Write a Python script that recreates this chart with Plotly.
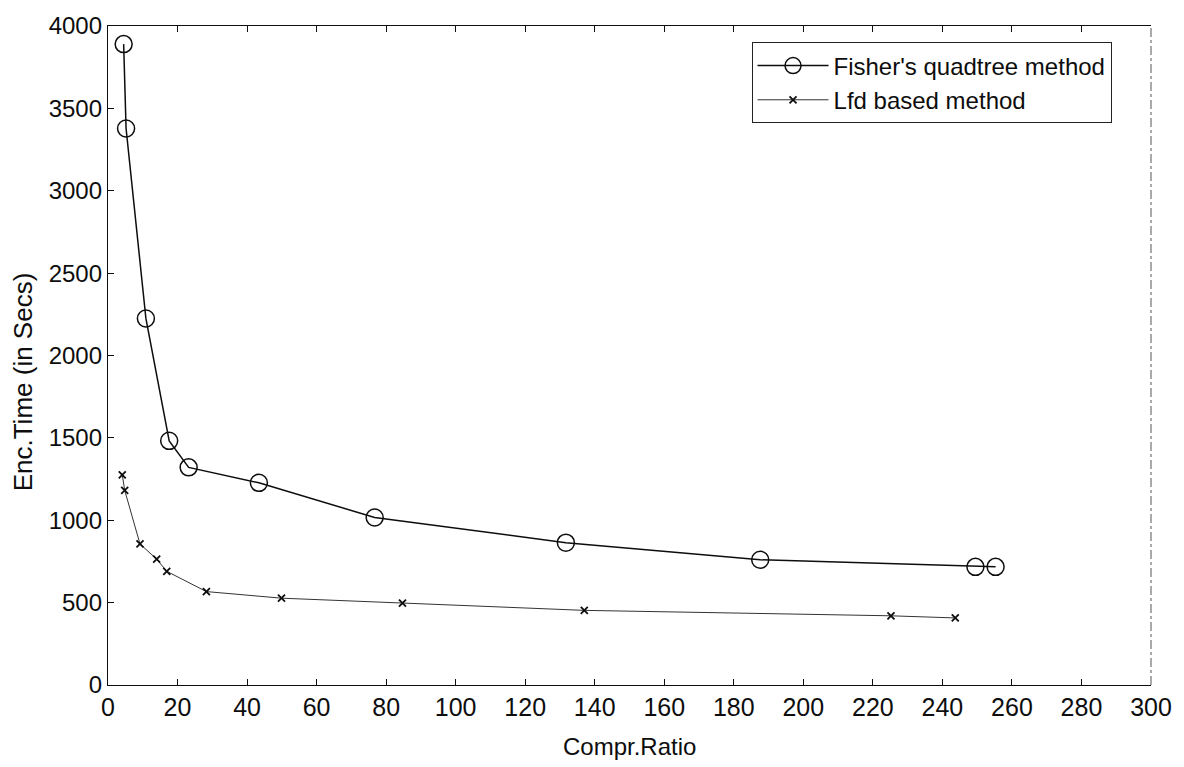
import plotly.graph_objects as go

# Encoding time vs compression ratio for the two fractal coding schemes
fisher_ratio = [4.5, 5.2, 10.9, 17.6, 23.2, 43.4, 76.7, 131.7, 187.6, 249.5, 255.3]
fisher_time = [3890, 3378, 2225, 1482, 1321, 1227, 1017, 864, 760, 717, 717]

lfd_ratio = [4.1, 4.8, 9.2, 14.0, 16.9, 28.3, 49.9, 84.7, 137.0, 225.2, 243.7]
lfd_time = [1276, 1182, 856, 764, 690, 567, 527, 497, 453, 420, 407]

x_ticks = list(range(0, 301, 20))
y_ticks = list(range(0, 4001, 500))

INK = "#0d0d0d"

fig = go.Figure()
fig.add_trace(go.Scatter(
    x=fisher_ratio, y=fisher_time, mode="lines+markers",
    name="Fisher's quadtree method",
    line=dict(color=INK, width=1.5),
    marker=dict(symbol="circle-open", size=17, color=INK,
                line=dict(width=1.5, color=INK)),
))
fig.add_trace(go.Scatter(
    x=lfd_ratio, y=lfd_time, mode="lines+markers",
    name="Lfd based method",
    line=dict(color="#333333", width=1),
    marker=dict(symbol="x-thin", size=7, color=INK,
                line=dict(width=1.8, color=INK)),
))

axis_common = dict(
    showgrid=False, zeroline=False, showline=True, linecolor=INK,
    linewidth=1.3, ticks="inside", ticklen=6,
    tickcolor=INK, tickwidth=1,
)

fig.update_layout(
    width=1184, height=767,
    margin=dict(l=108, r=26, t=23, b=82),
    paper_bgcolor="white", plot_bgcolor="white",
    font=dict(family="Liberation Sans, Arial, sans-serif", color=INK),
    showlegend=True,
    legend=dict(
        x=0.617, y=0.975, xanchor="left", yanchor="top",
        bgcolor="white", bordercolor="#222222", borderwidth=1,
        font=dict(size=24, color=INK),
        itemwidth=71, tracegroupgap=0,
    ),
    xaxis=dict(
        range=[0, 300], tickvals=x_ticks, ticktext=[str(v) for v in x_ticks],
        tickfont=dict(size=25), mirror="ticks",
        **axis_common,
    ),
    yaxis=dict(
        range=[0, 4000], tickvals=y_ticks, ticktext=[str(v) for v in y_ticks],
        tickfont=dict(size=24), mirror=False,
        **axis_common,
    ),
    annotations=[
        dict(text="Compr.Ratio", xref="paper", yref="paper", x=0.5, y=-0.093,
             xanchor="center", yanchor="middle", showarrow=False,
             font=dict(size=24, color=INK)),
        dict(text="Enc.Time (in Secs)", xref="paper", yref="paper", x=-0.082, y=0.46,
             xanchor="center", yanchor="middle", showarrow=False, textangle=-90,
             font=dict(size=26, color=INK)),
    ],
    shapes=[
        # faint right-hand frame edge
        dict(type="line", xref="paper", yref="paper", x0=1, x1=1, y0=0, y1=1,
             line=dict(color="#555555", width=1, dash="dashdot")),
    ],
)

fig.write_html("out.html")
